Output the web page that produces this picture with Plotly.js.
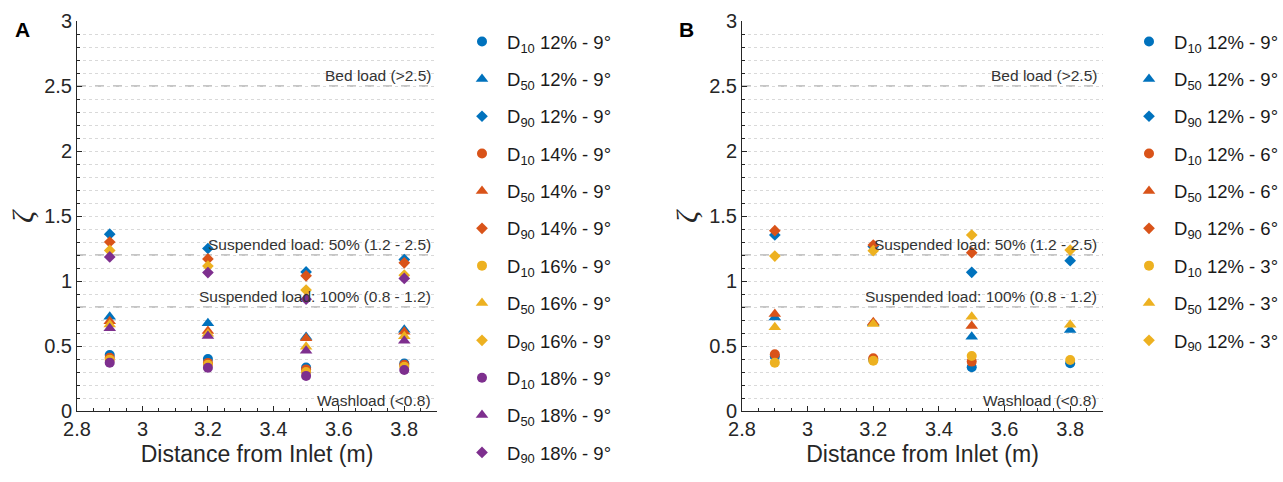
<!DOCTYPE html>
<html>
<head>
<meta charset="utf-8">
<script src="https://cdn.plot.ly/plotly-3.0.1.min.js"></script>
<style>html,body{margin:0;padding:0;background:#fff;}#chart{width:1283px;height:482px;}</style>
</head>
<body>
<div id="chart"></div>
<script>
// Distances from inlet (m)
const distA = [2.9, 3.2, 3.5, 3.8];
const distB = [2.9, 3.2, 3.5, 3.8];
const distB6 = [2.9, 3.2, 3.5];

// Panel A: concentration series at 9°
const A_12_D10 = [0.43, 0.40, 0.335, 0.365];
const A_12_D50 = [0.725, 0.675, 0.57, 0.625];
const A_12_D90 = [1.36, 1.25, 1.07, 1.165];
const A_14_D10 = [0.41, 0.37, 0.32, 0.355];
const A_14_D50 = [0.69, 0.615, 0.56, 0.61];
const A_14_D90 = [1.30, 1.17, 1.04, 1.14];
const A_16_D10 = [0.395, 0.355, 0.30, 0.34];
const A_16_D50 = [0.665, 0.595, 0.495, 0.575];
const A_16_D90 = [1.235, 1.115, 0.93, 1.045];
const A_18_D10 = [0.372, 0.333, 0.27, 0.315];
const A_18_D50 = [0.636, 0.577, 0.464, 0.54];
const A_18_D90 = [1.185, 1.065, 0.86, 1.02];

// Panel B: 12% at 9°, 6°, 3°
const B_9_D10 = [0.42, 0.395, 0.336, 0.367];
const B_9_D50 = [0.72, 0.675, 0.572, 0.623];
const B_9_D90 = [1.354, 1.265, 1.067, 1.156];
const B_6_D10 = [0.436, 0.405, 0.38];
const B_6_D50 = [0.746, 0.682, 0.654];
const B_6_D90 = [1.387, 1.277, 1.218];
const B_3_D10 = [0.372, 0.387, 0.423, 0.392];
const B_3_D50 = [0.644, 0.67, 0.725, 0.664];
const B_3_D90 = [1.192, 1.233, 1.354, 1.238];

const labelsA = ['12% - 9°', '14% - 9°', '16% - 9°', '18% - 9°'];
const labelsB = ['12% - 9°', '12% - 6°', '12% - 3°'];
const sizes = ['10', '50', '90'];
const yTitle = 'ζ';

const colors = ['#0072BD', '#D95319', '#EDB120', '#7E2F8E'];
const symbols = ['circle', 'triangle-up', 'diamond'];
const msize = [10, 11, 9];

const seriesA = [[A_12_D10, A_12_D50, A_12_D90], [A_14_D10, A_14_D50, A_14_D90],
                 [A_16_D10, A_16_D50, A_16_D90], [A_18_D10, A_18_D50, A_18_D90]];
const seriesB = [[B_9_D10, B_9_D50, B_9_D90], [B_6_D10, B_6_D50, B_6_D90], [B_3_D10, B_3_D50, B_3_D90]];
const xsB = [distB, distB6, distB];

const traces = [];
let g = 0;
seriesA.forEach((grp, i) => {
  grp.forEach((vals, j) => {
    traces.push({
      type: 'scatter', mode: 'markers', x: distA, y: vals, xaxis: 'x', yaxis: 'y',
      name: 'D<sub>' + sizes[j] + '</sub> ' + labelsA[i],
      legend: 'legend', legendgroup: 'g' + (g++),
      marker: {color: colors[i], symbol: symbols[j], size: msize[j]}
    });
  });
});
seriesB.forEach((grp, i) => {
  grp.forEach((vals, j) => {
    traces.push({
      type: 'scatter', mode: 'markers', x: xsB[i], y: vals, xaxis: 'x2', yaxis: 'y2',
      name: 'D<sub>' + sizes[j] + '</sub> ' + labelsB[i],
      legend: 'legend2', legendgroup: 'g' + (g++),
      marker: {color: colors[i], symbol: symbols[j], size: msize[j]}
    });
  });
});

const FAM = 'Liberation Sans, Arial, sans-serif';
const tickFont = {family: FAM, size: 20, color: '#262626'};
function xax(domain, anchor) {
  return {
    domain: domain, anchor: anchor, range: [2.8, 3.9], dtick: 0.2, tick0: 2.8,
    showgrid: false, zeroline: false, showline: true, linecolor: '#262626', linewidth: 1,
    ticks: 'inside', ticklen: 5, tickcolor: '#262626',
    minor: {dtick: 0.05, ticks: 'inside', ticklen: 3, tickcolor: '#262626', showgrid: false},
    tickfont: tickFont,
    title: {text: 'Distance from Inlet (m)', font: {family: FAM, size: 23, color: '#262626'}, standoff: 6}
  };
}
function yax(anchor) {
  return {
    anchor: anchor, range: [0, 3], dtick: 0.5, tick0: 0,
    showgrid: true, gridcolor: '#d9d9d9', griddash: 'dot', gridwidth: 1,
    zeroline: false, showline: true, linecolor: '#262626', linewidth: 1,
    ticks: 'inside', ticklen: 5, tickcolor: '#262626',
    minor: {dtick: 0.1, ticks: 'inside', ticklen: 3, tickcolor: '#262626', showgrid: true, gridcolor: '#d9d9d9', griddash: 'dot', gridwidth: 1},
    tickfont: tickFont
  };
}

const annFont = {family: FAM, size: 15.5, color: '#333333'};
const annTexts = [['Bed load (>2.5)', 2.5], ['Suspended load: 50% (1.2 - 2.5)', 1.2], ['Suspended load: 100% (0.8 - 1.2)', 0.8], ['Washload (<0.8)', 0]];
const annotations = [];
const shapes = [];
[['x', 'y', 22], ['x2', 'y2', 686]].forEach(([xa, ya, px]) => {
  annTexts.forEach(([t, v]) => {
    annotations.push({xref: xa + ' domain', yref: ya, x: 0.988, y: v, xanchor: 'right', yanchor: 'bottom',
      yshift: 0, text: t, showarrow: false, font: annFont});
    if (v > 0) shapes.push({type: 'line', xref: xa + ' domain', yref: ya, x0: 0, x1: 1, y0: v, y1: v,
      line: {color: '#8c8c8c', width: 1, dash: 'dash'}, layer: 'below'});
  });
  annotations.push({xref: 'paper', yref: ya, x: px / 1283, y: 1.5, xanchor: 'center', yanchor: 'middle',
    textangle: -90, text: '<i>' + yTitle + '</i>', showarrow: false,
    font: {family: 'Liberation Serif, DejaVu Serif, serif', size: 30, color: '#262626'}});
});
annotations.push({xref: 'paper', yref: 'paper', x: 13 / 1283, y: 1 + (21 - 29) / 390, xanchor: 'left', yanchor: 'middle',
  text: '<b>A</b>', showarrow: false, font: {family: FAM, size: 21, color: '#000'}});
annotations.push({xref: 'paper', yref: 'paper', x: 677 / 1283, y: 1 + (21 - 29) / 390, xanchor: 'left', yanchor: 'middle',
  text: '<b>B</b>', showarrow: false, font: {family: FAM, size: 21, color: '#000'}});

const legFont = {family: FAM, size: 18.5, color: '#1a1a1a'};
const layout = {
  width: 1283, height: 482,
  margin: {l: 0, r: 0, t: 21, b: 71, autoexpand: false},
  paper_bgcolor: '#ffffff', plot_bgcolor: '#ffffff',
  xaxis: xax([77 / 1283, 437 / 1283], 'y'),
  yaxis: yax('x'),
  xaxis2: xax([742 / 1283, 1103 / 1283], 'y2'),
  yaxis2: yax('x2'),
  showlegend: true,
  legend: {x: 457 / 1283, xanchor: 'left', y: 1 - 2 / 390, yanchor: 'top', font: legFont, maxheight: 478,
    traceorder: 'grouped', tracegroupgap: 10.3, bgcolor: 'rgba(0,0,0,0)', itemwidth: 40},
  legend2: {x: 1124 / 1283, xanchor: 'left', y: 1 - 2 / 390, yanchor: 'top', font: legFont, maxheight: 478,
    traceorder: 'grouped', tracegroupgap: 10.3, bgcolor: 'rgba(0,0,0,0)', itemwidth: 40},
  annotations: annotations,
  shapes: shapes
};

Plotly.newPlot('chart', traces, layout, {displayModeBar: false, staticPlot: true});
</script>
</body>
</html>
